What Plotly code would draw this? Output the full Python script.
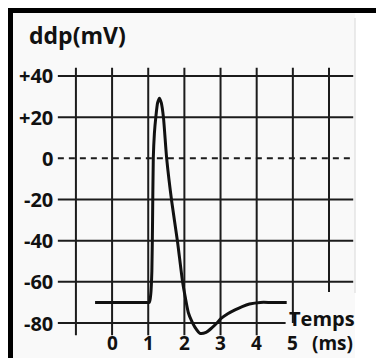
import plotly.graph_objects as go

# ---- data ----
time_ms = [-0.47, 0.90, 1.03, 1.07, 1.10, 1.12, 1.14, 1.17, 1.21, 1.26, 1.31, 1.36, 1.42,
           1.51, 1.65, 1.81, 1.95, 2.03, 2.11, 2.20, 2.29, 2.43, 2.60, 2.75, 2.90, 3.00,
           3.20, 3.40, 3.60, 3.80, 4.10, 4.40, 4.83]
ddp_mV = [-70, -70, -70, -66, -55, -30, 0, 12, 20, 27, 29.2, 27, 20,
          0, -21, -40.5, -60, -68, -75, -79, -82, -85, -84.5, -82.5, -80, -78,
          -75.5, -73.6, -72, -70.8, -70, -70, -70]

x_grid = [-1, 0, 1, 2, 3, 4, 5, 6]
y_grid = [40, 20, -20, -40, -60, -80]
x_tick_vals = [0, 1, 2, 3, 4, 5]
x_tick_labels = ["0", "1", "2", "3", "4", "5"]
y_tick_vals = [40, 20, 0, -20, -40, -60, -80]
y_tick_labels = ["+40", "+20", "0", "-20", "-40", "-60", "-80"]
y_title = "ddp(mV)"
x_title_1 = "Temps"
x_title_2 = "(ms)"

W, H = 376, 358
FONT = "Open Sans"
INK = "#111111"

def px(p):
    return p / W

def py(p):
    return 1 - p / H

shapes = []
# background panel
shapes.append(dict(type="rect", xref="paper", yref="paper", x0=px(13), x1=px(355), y0=py(358), y1=py(13),
                   fillcolor="#f9f9f9", line=dict(width=0), layer="below"))
shapes.append(dict(type="line", xref="paper", yref="paper", x0=px(355), x1=px(355), y0=py(293), y1=py(18),
                   line=dict(color="#d8d8d8", width=1), layer="below"))
# frame
shapes.append(dict(type="rect", xref="paper", yref="paper", x0=px(8), x1=1.0, y0=py(13), y1=py(8),
                   fillcolor="#000000", line=dict(width=0)))
shapes.append(dict(type="rect", xref="paper", yref="paper", x0=px(8), x1=px(13), y0=0, y1=py(8),
                   fillcolor="#000000", line=dict(width=0)))

# vertical grid lines
for xv in x_grid:
    bottom = -86
    if xv == 5:
        bottom = -80
    elif xv == 6:
        bottom = -65
    shapes.append(dict(type="line", xref="x", yref="y", x0=xv, x1=xv, y0=bottom, y1=44,
                       line=dict(color="#1c1c1c", width=2), layer="below"))
# horizontal grid lines
for yv in y_grid:
    right = 4.8 if yv == -80 else 6.67
    shapes.append(dict(type="line", xref="x", yref="y", x0=-1.5, x1=right, y0=yv, y1=yv,
                       line=dict(color="#1c1c1c", width=2), layer="below"))
# dashed zero line
shapes.append(dict(type="line", xref="x", yref="y", x0=-1.5, x1=6.67, y0=0, y1=0,
                   line=dict(color="#1c1c1c", width=2, dash="6px,5px"), layer="below"))

fig = go.Figure()
fig.add_trace(go.Scatter(x=time_ms, y=ddp_mV, mode="lines",
                         line=dict(color=INK, width=3, shape="spline", smoothing=0.6),
                         hoverinfo="skip", showlegend=False))

annotations = []
for v, lab in zip(y_tick_vals, y_tick_labels):
    annotations.append(dict(x=-1.58, y=v, xref="x", yref="y", text="<b>" + lab + "</b>",
                            showarrow=False, xanchor="right", yanchor="middle",
                            font=dict(family=FONT, size=20, color=INK)))
for v, lab in zip(x_tick_vals, x_tick_labels):
    annotations.append(dict(x=v, y=py(357), xref="x", yref="paper", text="<b>" + lab + "</b>",
                            showarrow=False, xanchor="center", yanchor="bottom", borderpad=0,
                            font=dict(family=FONT, size=19, color=INK)))
annotations.append(dict(x=px(27), y=py(35), xref="paper", yref="paper", text="<b>" + y_title + "</b>",
                        showarrow=False, xanchor="left", yanchor="middle",
                        font=dict(family=FONT, size=23, color=INK)))
annotations.append(dict(x=px(357), y=py(318), xref="paper", yref="paper", text="<b>" + x_title_1 + "</b>",
                        showarrow=False, xanchor="right", yanchor="middle",
                        font=dict(family=FONT, size=20, color=INK)))
annotations.append(dict(x=px(354), y=py(357), xref="paper", yref="paper", text="<b>" + x_title_2 + "</b>",
                        showarrow=False, xanchor="right", yanchor="bottom", borderpad=0,
                        font=dict(family=FONT, size=19, color=INK)))

fig.update_layout(
    width=W, height=H,
    margin=dict(l=0, r=0, t=0, b=0),
    paper_bgcolor="#ffffff", plot_bgcolor="rgba(0,0,0,0)",
    xaxis=dict(range=[-3.10, 7.30], visible=False, fixedrange=True),
    yaxis=dict(range=[-97.0, 76.9], visible=False, fixedrange=True),
    shapes=shapes, annotations=annotations,
    showlegend=False,
)

fig.write_html("out.html", config={"displayModeBar": False},
               post_script="document.body.style.margin='0px';document.body.style.overflow='hidden';")
